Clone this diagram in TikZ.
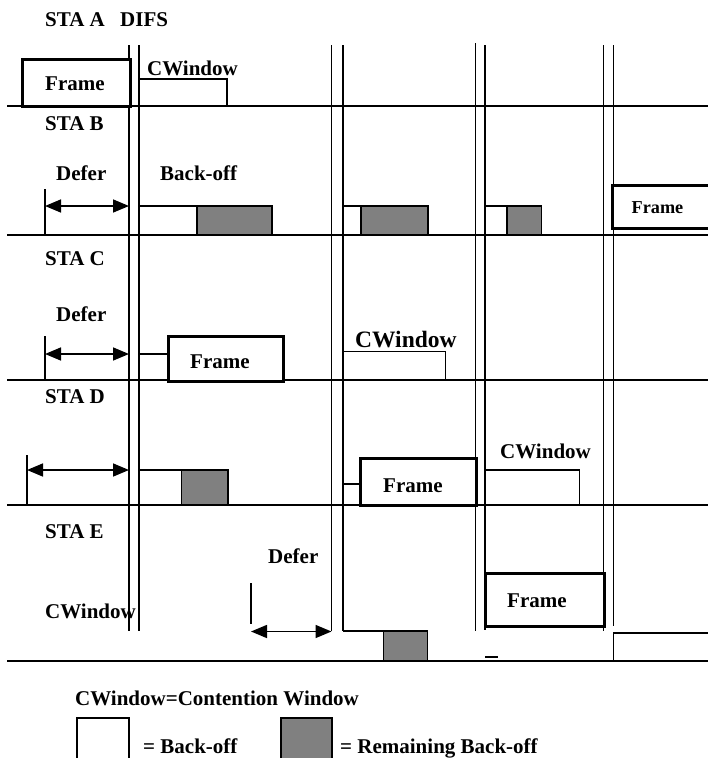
\documentclass[tikz,border=0pt]{standalone}
\usepackage{fontspec}
\setmainfont{Liberation Serif}
\usetikzlibrary{arrows.meta}
\definecolor{midgray}{RGB}{128,128,128}
\begin{document}
\begin{tikzpicture}[x=1pt,y=-1pt,
  lbl/.style={anchor=base west, inner sep=0pt, font=\bfseries\fontsize{21}{24}\selectfont},
  ln/.style={line width=1.2pt},
  fr/.style={line width=3pt, fill=white},
  wb/.style={draw, line width=1.2pt},
  gb/.style={draw, line width=1.2pt, fill=midgray},
  dar/.style={line width=1.6pt, {Triangle[length=16pt,width=13pt]}-{Triangle[length=16pt,width=13pt]}}
]
\useasboundingbox[fill=white] (0,0) rectangle (708,758);

% timelines
\draw[ln] (7,106) -- (710,106);
\draw[ln] (7,235) -- (710,235);
\draw[ln] (7,380) -- (710,380);
\draw[ln] (7,505) -- (710,505);
\draw[line width=2.4pt] (7,661) -- (710,661);

% vertical slot boundaries
\draw[ln] (129,45) -- (129,631);
\draw[ln] (139,45) -- (139,631);
\draw[ln] (331.5,45) -- (331.5,631);
\draw[ln] (343,45) -- (343,631);
\draw[ln] (475.7,43) -- (475.7,631);
\draw[ln] (485,45) -- (485,630);
\draw[ln] (603.3,45) -- (603.3,631);
\draw[ln] (613.3,45) -- (613.3,626);

% STA A
\draw[fr] (22,59) rectangle (130,106);
\draw[wb] (139,79) rectangle (227,106);

% STA B
\draw[wb] (139,206) rectangle (197,235);
\draw[gb] (197,206) rectangle (272,235);
\draw[wb] (343,206) rectangle (361,235);
\draw[gb] (361,206) rectangle (428,235);
\draw[wb] (485,206) rectangle (507,235);
\draw[gb] (507,206) rectangle (541.5,235);
\draw[line width=3pt] (712,185) -- (612.3,185) -- (612.3,228) -- (712,228);
\coordinate (tB) at (45,189);
\coordinate (aB1) at (45,206);
\coordinate (aB2) at (129,206);
\draw[ln] (tB) -- (45,235);
\draw[dar] (aB1) -- (aB2);

% STA C
\draw[ln] (139,354) -- (168,354);
\draw[fr] (168,336) rectangle (283,381);
\draw[wb] (343,351.7) rectangle (445.7,380);
\coordinate (tC) at (45,336);
\coordinate (aC1) at (45,354);
\coordinate (aC2) at (129,354);
\draw[ln] (tC) -- (45,380);
\draw[dar] (aC1) -- (aC2);

% STA D
\draw[wb] (139,470) rectangle (181.5,505);
\draw[gb] (181.5,470) rectangle (228,505);
\draw[ln] (343,484) -- (360,484);
\draw[fr] (360,458.3) rectangle (476,505);
\draw[wb] (485,470) rectangle (579.3,505);
\coordinate (tD) at (27,455);
\coordinate (aD1) at (27,470);
\coordinate (aD2) at (129,470);
\draw[ln] (tD) -- (27,505);
\draw[dar] (aD1) -- (aD2);

% STA E
\draw[ln] (343,631) -- (383.3,631);
\draw[gb] (383.3,631) rectangle (427.7,661);
\draw[line width=1.6pt] (485,657) -- (498,657);
\draw[fr] (485,573.3) rectangle (604.3,626);
\draw[ln] (712,633) -- (613.3,633) -- (613.3,661);
\coordinate (tE) at (251,583);
\coordinate (aE1) at (251,631.5);
\coordinate (aE2) at (331.5,631.5);
\draw[ln] (tE) -- (251,624);
\draw[dar] (aE1) -- (aE2);

% legend boxes
\draw[wb] (77,760) -- (77,718) -- (129,718) -- (129,760);
\draw[gb] (281,760) -- (281,718) -- (332,718) -- (332,760);

% labels
\node[lbl] (staA) at (45,26) {STA A};
\node[lbl] (difs) at (120,26) {DIFS};
\node[lbl] (frA) at (45,90) {Frame};
\node[lbl] (cwA) at (147,75) {CWindow};
\node[lbl] (staB) at (45,130) {STA B};
\node[lbl] (defB) at (56,180) {Defer};
\node[lbl] (boB) at (160,180) {Back-off};
\node[lbl, font=\bfseries\fontsize{18.2}{21}\selectfont] (frB) at (631.5,213) {Frame};
\node[lbl] (staC) at (45,265) {STA C};
\node[lbl] (defC) at (56,321) {Defer};
\node[lbl] (frC) at (190,368) {Frame};
\node[lbl, font=\bfseries\fontsize{23.5}{27}\selectfont] (cwC) at (355,347) {CWindow};
\node[lbl] (staD) at (45,403) {STA D};
\node[lbl] (cwD) at (500,458) {CWindow};
\node[lbl] (frD) at (383,492) {Frame};
\node[lbl] (staE) at (45,538) {STA E};
\node[lbl] (defE) at (268,563) {Defer};
\node[lbl] (cwE) at (45,618) {CWindow};
\node[lbl] (frE) at (507,607) {Frame};
\node[lbl] (leg) at (75,705) {CWindow=Contention Window};
\node[lbl] (legA) at (143,753) {= Back-off};
\node[lbl] (legB) at (340,753) {= Remaining Back-off};
\end{tikzpicture}
\end{document}
